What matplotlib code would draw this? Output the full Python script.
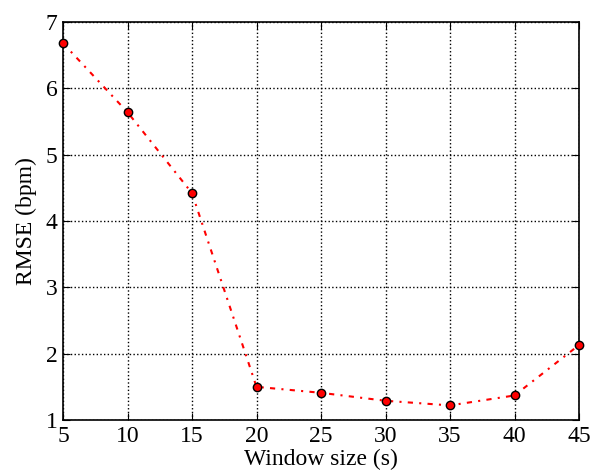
import matplotlib
matplotlib.use('Agg')
import matplotlib.pyplot as plt

window = [5, 10, 15, 20, 25, 30, 35, 40, 45]
rmse = [6.68, 5.64, 4.42, 1.50, 1.41, 1.29, 1.22, 1.37, 2.13]

plt.rcParams['font.family'] = 'Liberation Serif'
plt.rcParams['xtick.direction'] = 'in'
plt.rcParams['ytick.direction'] = 'in'

fig = plt.figure(figsize=(6, 4.73), dpi=100)
ax = fig.add_axes([63/600, 1 - 420/473, (579-63)/600, (420-22)/473])
ax.plot(window, rmse, color='red', linestyle=(0, (2.5, 3, 1, 3)), linewidth=1.5,
        marker='o', markersize=6, markerfacecolor='red', markeredgecolor='black',
        markeredgewidth=1, clip_on=False, zorder=3)
ax.set_xlim(5, 45)
ax.set_ylim(1, 7)
ax.set_xticks(range(5, 50, 5))
ax.set_yticks(range(1, 8))
ax.grid(True, color='black', linestyle=':', linewidth=1)
ax.tick_params(top=True, right=True, labelsize=17, length=5, pad=4)
for s in ax.spines.values():
    s.set_linewidth(1.2)
ax.set_xlabel('Window size (s)', fontsize=17, labelpad=2)
ax.set_ylabel('RMSE (bpm)', fontsize=17, labelpad=6)
fig.savefig('out.png', dpi=100)
